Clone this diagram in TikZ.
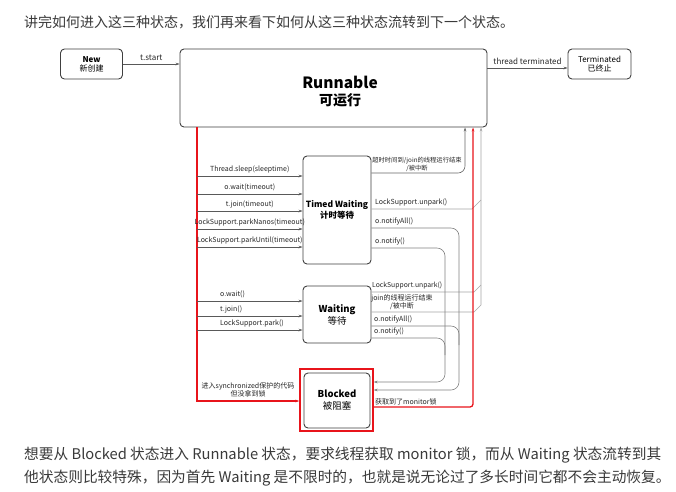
\documentclass[tikz,border=0pt]{standalone}
\usepackage{fontspec}
\setmainfont{Noto Sans CJK SC}
\usetikzlibrary{arrows.meta}
\definecolor{bodytxt}{HTML}{3A3A3A}
\definecolor{redl}{HTML}{E8141B}
\begin{document}
\begin{tikzpicture}[x=1pt,y=-1pt,
  box/.style={draw=black!75, rounded corners=4pt, line width=0.9pt, fill=white, align=center, inner sep=0pt},
  lbl/.style={font=\fontsize{7}{8}\selectfont, inner sep=0pt, align=center, text=black!85},
  tip/.style={-{Stealth[length=4pt,width=2.6pt]}},
  arr/.style={draw=black!65, line width=0.6pt, tip},
  darkln/.style={draw=black!60, line width=0.6pt},
  midln/.style={draw=black!50, line width=0.6pt},
  lightln/.style={draw=black!35, line width=0.6pt},
  redln/.style={draw=redl, line width=1.3pt}
]
\useasboundingbox (0,0) rectangle (676,491);
\fill[white] (0,0) rectangle (676,491);

% body text
\node[anchor=west, inner sep=0pt, text=bodytxt, font=\fontsize{14}{16}\selectfont] (toptext) at (24,22) {讲完如何进入这三种状态，我们再来看下如何从这三种状态流转到下一个状态。};
\node[anchor=west, inner sep=0pt, text=bodytxt, font=\fontsize{14.7}{17}\selectfont] (bot1) at (24,455) {想要从 Blocked 状态进入 Runnable 状态，要求线程获取 monitor 锁，而从 Waiting 状态流转到其};
\node[anchor=west, inner sep=0pt, text=bodytxt, font=\fontsize{14.7}{17}\selectfont] (bot2) at (24,478) {他状态则比较特殊，因为首先 Waiting 是不限时的，也就是说无论过了多长时间它都不会主动恢复。};

% state boxes
\node[box, minimum width=62pt, minimum height=30pt, font=\fontsize{8}{9}\selectfont] (new) at (91.5,64) {\textbf{New}\\新创建};
\node[box, minimum width=307pt, minimum height=78pt] (run) at (333.5,88) {};
\node[inner sep=0pt, font=\fontsize{15.5}{18}\selectfont\bfseries] (runlbl1) at (340,82) {Runnable};
\node[inner sep=0pt, font=\fontsize{14}{16}\selectfont\bfseries] (runlbl2) at (340,100) {可运行};
\node[box, minimum width=63pt, minimum height=30pt, font=\fontsize{8}{9}\selectfont] (term) at (599.5,64) {Terminated\\已终止};
\node[box, minimum width=68pt, minimum height=108pt, font=\fontsize{8.5}{10.5}\selectfont] (timed) at (337,210) {\textbf{Timed Waiting}\\\textbf{计时等待}};
\node[box, minimum width=68pt, minimum height=57pt, font=\fontsize{9.5}{12}\selectfont] (wait) at (337,314.5) {\textbf{Waiting}\\等待};
\node[draw=redl, line width=1.3pt, minimum width=73pt, minimum height=62pt, inner sep=0pt] (bframe) at (336.5,400) {};
\node[box, minimum width=66pt, minimum height=55pt, font=\fontsize{9.5}{12}\selectfont] (blocked) at (337,400.5) {\textbf{Blocked}\\被阻塞};

% top arrows
\draw[arr] (new.east) -- (run.west |- new.east) node[lbl, midway, above=3pt, font=\fontsize{8}{9}\selectfont] {t.start};
\draw[arr] (run.east |- 0,68) -- (term.west |- 0,68) node[lbl, midway, above=3pt, font=\fontsize{8}{9}\selectfont] {thread terminated};

% red line from Runnable to Blocked
\draw[redln, tip] (run.south -| 197,0) |- (bframe.west |- 0,401);
\node[lbl] (synclbl) at (248,390) {进入synchronized保护的代码\\但没拿到锁};

% left arrows to Timed Waiting
\foreach \y/\t in {176/Thread.sleep(sleeptime), 194/o.wait(timeout), 211/t.join(timeout), 229/LockSupport.parkNanos(timeout), 247/LockSupport.parkUntil(timeout)}
  \draw[arr] (197,\y) -- (timed.west |- 0,\y) node[lbl, midway, above=3pt] {\t};

% left arrows to Waiting
\foreach \y in {301, 316, 330}
  \draw[arr] (197,\y) -- (wait.west |- 0,\y);
\node[lbl, anchor=south west] (wl1) at (220,298) {o.wait()};
\node[lbl, anchor=south west] (wl2) at (220,313) {t.join()};
\node[lbl, anchor=south west] (wl3) at (220,327) {LockSupport.park()};

% Timed Waiting -> Runnable (timeout)
\draw[darkln, tip, rounded corners=7pt] (timed.east |- 0,173) -| (run.south -| 465,0);
\node[lbl, font=\fontsize{6.3}{8}\selectfont] (tolbl) at (417,164) {超时时间到/join的线程运行结束\\/被中断};

% unpark / join lines -> Runnable (light)
\draw[lightln, tip] (wait.east |- 0,312) -- (474,312) -- (481,305) -- (run.south -| 481,0);
\draw[lightln] (wait.east |- 0,292) -- (474,292) -- (481,285);
\draw[lightln] (timed.east |- 0,209) -- (472,209) -- (481,200);
\node[lbl, anchor=south west] (tu) at (375,206) {LockSupport.unpark()};
\node[lbl, anchor=south west, font=\fontsize{6.8}{8}\selectfont] (wu) at (372,289.5) {LockSupport.unpark()};
\node[lbl, font=\fontsize{7}{8.5}\selectfont] (wj) at (402,302) {join的线程运行结束\\/被中断};

% notify lines -> Blocked
\draw[midln, tip, rounded corners=8pt] (timed.east |- 0,228) -- (459,228) -- (459,390) -- (bframe.east |- 0,390);
\draw[midln, tip, rounded corners=8pt] (timed.east |- 0,248) -- (445,248) -- (445,382) -- (bframe.east |- 0,382);
\draw[midln, rounded corners=8pt] (wait.east |- 0,326) -- (459,326) -- (459,345);
\draw[midln, rounded corners=8pt] (wait.east |- 0,338) -- (445,338) -- (445,355);
\node[lbl, anchor=south west] (tna) at (375,225) {o.notifyAll()};
\node[lbl, anchor=south west] (tn) at (375,245) {o.notify()};
\node[lbl, anchor=south west] (wna) at (374,323.5) {o.notifyAll()};
\node[lbl, anchor=south west] (wn) at (374,335.5) {o.notify()};

% Blocked -> Runnable (monitor)
\draw[redln, tip, rounded corners=3pt] (bframe.east |- 0,407) -- (473,407) -- (run.south -| 473,0);
\node[lbl, anchor=south west] (mon) at (375,405) {获取到了monitor锁};
\end{tikzpicture}
\end{document}
